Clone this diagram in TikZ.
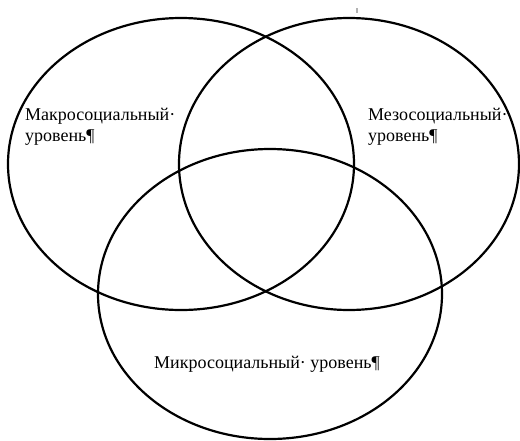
\documentclass[tikz,border=0pt]{standalone}
\usepackage{fontspec}
\setmainfont{Liberation Serif}
\usetikzlibrary{shapes.geometric}
\begin{document}
\begin{tikzpicture}[x=1pt,y=-1pt,
  ring/.style={ellipse,draw=black,line width=2.2pt,inner sep=0pt},
  lbl/.style={anchor=base west,inner sep=0pt,align=left,font=\fontsize{18}{21.5}\selectfont}]
\useasboundingbox[fill=white] (0,0) rectangle (520,440);
\node[ring,minimum width=346pt,minimum height=292pt] (macro) at (181,164) {};
\node[ring,minimum width=340pt,minimum height=292pt] (meso) at (349,164) {};
\node[ring,minimum width=344pt,minimum height=290pt] (micro) at (270,294) {};
\node[lbl] (tmacro) at (25,141.5) {Макросоциальный·\\уровень¶};
\node[lbl] (tmeso) at (368,141.5) {Мезосоциальный·\\уровень¶};
\node[lbl] (tmicro) at (154,368) {Микросоциальный· уровень¶};
\fill[gray!60] (356,8) rectangle (358,13);
\end{tikzpicture}
\end{document}
